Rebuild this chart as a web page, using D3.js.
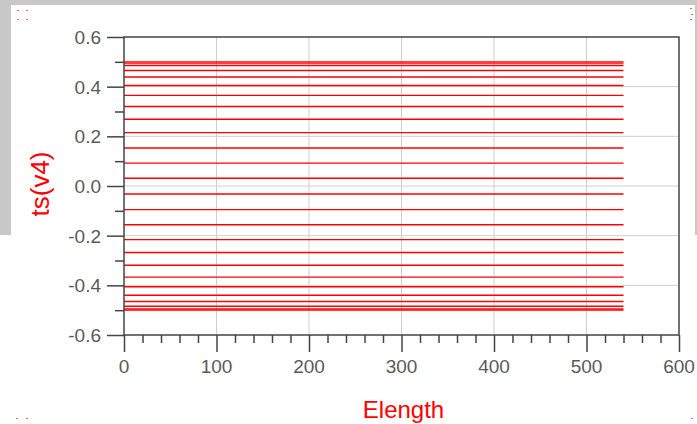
<!DOCTYPE html>
<html lang="en">
<head>
<meta charset="UTF-8">
<title>ts(v4) vs Elength</title>
<style>
    body { margin: 0; padding: 0; background: #fff; }
    svg { display: block; font-family: "Liberation Sans", Arial, sans-serif; }
</style>
</head>
<body>
<div id="chart"></div>
<script src="https://d3js.org/d3.v7.min.js"></script>
<script>
// Sweep values (each trace is flat over Elength)
const traceLevels = [0.5, 0.495, 0.485, 0.465, 0.439, 0.405, 0.365, 0.32, 0.269, 0.215,
    0.153, 0.092, 0.031, -0.032, -0.095, -0.156, -0.216, -0.268, -0.319, -0.367,
    -0.406, -0.44, -0.465, -0.484, -0.495, -0.5];
const elengthStart = 0;
const elengthEnd = 540;

const xTicks = [0, 100, 200, 300, 400, 500, 600];
const yTicks = [-0.6, -0.4, -0.2, 0.0, 0.2, 0.4, 0.6];
const yTickLabels = ['-0.6', '-0.4', '-0.2', '0.0', '0.2', '0.4', '0.6'];

const width = 697, height = 424;
const margin = { top: 37, right: 18, bottom: 89, left: 124 };

const svg = d3.select('#chart').append('svg')
    .attr('width', width)
    .attr('height', height);

// window frame (gray edges like the original screenshot)
svg.append('rect').attr('width', width).attr('height', height).attr('fill', '#fff');
svg.append('rect').attr('x', 0).attr('y', 0).attr('width', width).attr('height', 5).attr('fill', '#c8c8c8');
svg.append('rect').attr('x', 0).attr('y', 0).attr('width', 11).attr('height', 235).attr('fill', '#c8c8c8');
svg.append('rect').attr('x', 695).attr('y', 0).attr('width', 2).attr('height', 235).attr('fill', '#c8c8c8');

const x = d3.scaleLinear().domain([0, 600]).range([margin.left, width - margin.right]);
const y = d3.scaleLinear().domain([-0.6, 0.6]).range([height - margin.bottom, margin.top]);

const axisColor = '#444';

// grid
svg.append('g').selectAll('line')
    .data(xTicks.slice(1, -1))
    .join('line')
    .attr('x1', d => x(d)).attr('x2', d => x(d))
    .attr('y1', y(0.6)).attr('y2', y(-0.6))
    .attr('stroke', '#cfcfcf').attr('stroke-width', 1);

svg.append('g').selectAll('line')
    .data(yTicks.slice(1, -1))
    .join('line')
    .attr('x1', x(0)).attr('x2', x(600))
    .attr('y1', d => y(d)).attr('y2', d => y(d))
    .attr('stroke', '#cfcfcf').attr('stroke-width', 1);

// traces
svg.append('g').selectAll('line')
    .data(traceLevels)
    .join('line')
    .attr('x1', x(elengthStart)).attr('x2', x(elengthEnd))
    .attr('y1', d => y(d)).attr('y2', d => y(d))
    .attr('stroke', '#ff0000').attr('stroke-width', 1.4);

// plot box
svg.append('rect')
    .attr('x', x(0)).attr('y', y(0.6))
    .attr('width', x(600) - x(0)).attr('height', y(-0.6) - y(0.6))
    .attr('fill', 'none').attr('stroke', axisColor).attr('stroke-width', 1.5);

// x axis: major ticks 17px, minor every 20
const xAxis = svg.append('g')
    .attr('transform', `translate(0,${y(-0.6)})`)
    .call(d3.axisBottom(x).tickValues(d3.range(0, 601, 20)).tickSize(8).tickFormat(''));
xAxis.select('.domain').remove();
xAxis.selectAll('line').attr('stroke', axisColor).attr('stroke-width', 1.5)
    .attr('y2', d => d % 100 === 0 ? 17 : 8);

svg.append('g').selectAll('text')
    .data(xTicks)
    .join('text')
    .attr('x', d => x(d))
    .attr('y', y(-0.6) + 38)
    .attr('text-anchor', 'middle')
    .attr('font-size', 19)
    .attr('fill', '#5a5a5a')
    .text(d => d);

// y axis: major ticks 17px, minor at odd tenths
const yAxis = svg.append('g')
    .attr('transform', `translate(${x(0)},0)`)
    .call(d3.axisLeft(y).tickValues(d3.range(-6, 7).map(k => k / 10)).tickSize(9).tickFormat(''));
yAxis.select('.domain').remove();
yAxis.selectAll('line').attr('stroke', axisColor).attr('stroke-width', 1.5)
    .attr('x2', (d, i) => i % 2 === 0 ? -17 : -9);

svg.append('g').selectAll('text')
    .data(yTicks)
    .join('text')
    .attr('x', x(0) - 23)
    .attr('y', d => y(d))
    .attr('dy', '0.36em')
    .attr('text-anchor', 'end')
    .attr('font-size', 19)
    .attr('fill', '#5a5a5a')
    .text((d, i) => yTickLabels[i]);

// axis titles
svg.append('text')
    .attr('x', (x(0) + x(600)) / 2 + 2)
    .attr('y', 418)
    .attr('text-anchor', 'middle')
    .attr('font-size', 24)
    .attr('fill', '#ff0000')
    .text('Elength');

svg.append('text')
    .attr('transform', `translate(49,${y(0) - 2}) rotate(-90)`)
    .attr('text-anchor', 'middle')
    .attr('font-size', 26)
    .attr('fill', '#ff0000')
    .text('ts(v4)');

// little red marker glyphs in the corners
const cornerDots = [[17, 10], [26, 10], [17, 19], [26, 19], [690, 8], [691, 14], [690, 19],
    [16, 418], [26, 418], [691, 418]];
svg.append('g').selectAll('rect')
    .data(cornerDots)
    .join('rect')
    .attr('x', d => d[0]).attr('y', d => d[1])
    .attr('width', 2).attr('height', 1)
    .attr('fill', '#ff6060');
</script>
</body>
</html>
